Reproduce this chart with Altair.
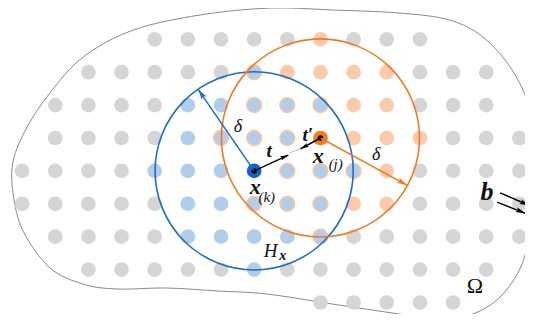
import math
import altair as alt
import pandas as pd

# ---------------- data ----------------
# particle grid: one string per row (top to bottom), one character per column (0..15)
# g = plain particle, b = inside horizon of x(k) only, o = inside horizon of x(j) only,
# x = inside both horizons, K = x(k), J = x(j), . = no particle
grid_rows = [
    "....gggggoggg...",
    "..gggggxooooggg.",
    ".ggggbbxxxooggg.",
    ".ggggbxxxJoooggg",
    "ggggbbbKxxxogggg",
    "gggggbbxxxoogggg",
    ".ggggbbbbxgggggg",
    "..gggggbggggggg.",
    ".........ggggg..",
]

# body outline Omega (grid units, clockwise from top)
outline_x = [7.48, 9.38, 11.37, 12.88, 13.90, 14.72, 15.23, 15.44, 15.53, 15.47, 15.29,
             14.99, 14.39, 13.60, 12.58, 11.37, 9.38, 7.36, 5.88, 4.37, 2.86, 1.84,
             0.84, 0.03, -0.27, -0.27, 0.15, 0.84, 1.84, 3.35, 5.37]
outline_y = [-0.95, -0.89, -0.80, -0.59, -0.07, 0.84, 1.85, 2.91, 3.97, 5.04, 6.10,
             7.04, 7.86, 8.35, 8.53, 8.35, 8.05, 7.74, 7.65, 7.56, 7.59, 7.44,
             6.95, 5.83, 4.70, 3.70, 2.67, 1.63, 0.54, -0.28, -0.74]

# horizons H_x(k) and H_x(j)
hz_x = [7, 9]
hz_y = [4, 3]
hz_col = ["#1b6ec2", "#f47a20"]
horizon = 3.0

# arrows: start, tip, colour, head size
ar_x1 = [7.0, 9.0, 7.0, 9.0, 14.42, 14.33]
ar_y1 = [4.0, 3.0, 4.0, 3.0, 4.67, 4.95]
ar_x2 = [5.31, 11.62, 8.03, 8.40, 15.30, 15.18]
ar_y2 = [1.52, 4.44, 3.52, 3.33, 5.05, 5.29]
ar_col = ["#1b6ec2", "#f47a20", "#000000", "#000000", "#000000", "#000000"]
ar_head = [180, 180, 110, 110, 150, 150]

# dotted link between the two force vectors
dot_x = [8.08, 8.44]
dot_y = [3.46, 3.30]

# labels
lab_text = ["δ", "δ", "(k)", "(j)", "H"]
lab_x = [6.51, 10.68, 7.38, 9.46, 7.50]
lab_y = [2.67, 3.52, 4.78, 3.78, 6.43]
lab_size = [18, 18, 15, 15, 19]

blab_text = ["x", "x", "t", "t′", "x", "b"]
blab_x = [7.03, 8.93, 7.45, 8.62, 7.86, 14.02]
blab_y = [4.49, 3.56, 3.40, 2.91, 6.58, 4.63]
blab_size = [22, 22, 19, 19, 14, 26]

omega_text = ["Ω"]
omega_x = [13.66]
omega_y = [7.50]

# ---------------- geometry of the picture ----------------
PX_X, PX_Y = 33.15, 32.9          # pixels per grid unit
X_DOM = [-0.4253, 15.170]
Y_DOM = [-0.9514, 8.350]
W, H = 517, 306

xs = alt.Scale(domain=X_DOM, nice=False, zero=False)
ys = alt.Scale(domain=Y_DOM, nice=False, zero=False, reverse=True)
X = lambda f: alt.X(f, type="quantitative", scale=xs, axis=None)
Y = lambda f: alt.Y(f, type="quantitative", scale=ys, axis=None)

recs = []
for r, row in enumerate(grid_rows):
    for c, ch in enumerate(row):
        if ch != ".":
            recs.append({"c": c, "r": r, "k": ch})
particles = pd.DataFrame(recs)

outline = pd.DataFrame({"x": outline_x, "y": outline_y, "i": range(len(outline_x))})
hz = pd.DataFrame({"x": hz_x, "y": hz_y, "col": hz_col})
arrows = pd.DataFrame({"x1": ar_x1, "y1": ar_y1, "x2": ar_x2, "y2": ar_y2,
                       "col": ar_col, "head": ar_head})
arrows["angle"] = [
    (math.degrees(math.atan2((b - a) * PX_X, -(d - cc) * PX_Y)) + 360) % 360
    for a, b, cc, d in zip(ar_x1, ar_x2, ar_y1, ar_y2)
]
link = pd.DataFrame({"x": dot_x, "y": dot_y})
labs = pd.DataFrame({"t": lab_text, "x": lab_x, "y": lab_y, "s": lab_size})
blabs = pd.DataFrame({"t": blab_text, "x": blab_x, "y": blab_y, "s": blab_size})
omega = pd.DataFrame({"t": omega_text, "x": omega_x, "y": omega_y})

DOT = 215
FONT = "Liberation Serif"

body = alt.Chart(outline).mark_line(
    interpolate="cardinal-closed", color="#8a8a8a", strokeWidth=1, clip=True
).encode(x=X("x"), y=Y("y"), order="i:Q")

def dots(kinds, fill, **kw):
    return alt.Chart(particles).transform_filter(
        alt.FieldOneOfPredicate(field="k", oneOf=kinds)
    ).mark_circle(size=DOT, color=fill, opacity=1, clip=True, **kw).encode(x=X("c"), y=Y("r"))

gray = dots(["g"], "#d5d5d5")
blue = dots(["b"], "#b1cdea")
orange = dots(["o"], "#fdcbab")
both = dots(["x"], "#b1cdea", stroke="#fbc3a0", strokeWidth=1.6)
ck = dots(["K"], "#1463c4")
cj = dots(["J"], "#f47a20")
cdot = alt.Chart(particles).transform_filter(
    alt.FieldOneOfPredicate(field="k", oneOf=["K", "J"])
).mark_circle(size=30, color="#000000", opacity=1).encode(x=X("c"), y=Y("r"))

rad_px = horizon * (PX_X + PX_Y) / 2
rings = alt.Chart(hz).mark_point(
    shape="circle", filled=False, size=(2 * rad_px) ** 2, strokeWidth=1.6, opacity=1
).encode(x=X("x"), y=Y("y"), color=alt.Color("col:N", scale=None))

shafts = alt.Chart(arrows).mark_rule(strokeWidth=1.5, clip=True).encode(
    x=X("x1"), y=Y("y1"), x2="x2", y2="y2", color=alt.Color("col:N", scale=None)
)
heads = alt.Chart(arrows).mark_point(
    shape="M0,0L-0.42,1.6L0,1.25L0.42,1.6Z", filled=True, opacity=1, strokeWidth=0, clip=True
).encode(
    x=X("x2"), y=Y("y2"),
    angle=alt.Angle("angle:Q", scale=None),
    size=alt.Size("head:Q", scale=None),
    color=alt.Color("col:N", scale=None),
)
dotted = alt.Chart(link).mark_line(color="#9a9a9a", strokeWidth=1.2, strokeDash=[1.5, 1.5]).encode(
    x=X("x"), y=Y("y")
)

txt = alt.Chart(labs).mark_text(font=FONT, fontStyle="italic", align="center",
                                baseline="middle", color="#111111").encode(
    x=X("x"), y=Y("y"), text="t:N", size=alt.Size("s:Q", scale=None))
btxt = alt.Chart(blabs).mark_text(font=FONT, fontStyle="italic", fontWeight="bold",
                                  align="center", baseline="middle", color="#111111").encode(
    x=X("x"), y=Y("y"), text="t:N", size=alt.Size("s:Q", scale=None))
otxt = alt.Chart(omega).mark_text(font=FONT, fontSize=22, align="center",
                                  baseline="middle", color="#111111").encode(
    x=X("x"), y=Y("y"), text="t:N")

chart = alt.layer(
    body, gray, orange, blue, both, ck, cj, cdot, rings, dotted, shafts, heads,
    txt, btxt, otxt
).properties(
    width=W, height=H, padding=0, background="white",
    autosize=alt.AutoSizeParams(type="none"),
).configure_view(strokeWidth=0)

chart.save("out.html", embed_options={"renderer": "svg", "actions": False})
